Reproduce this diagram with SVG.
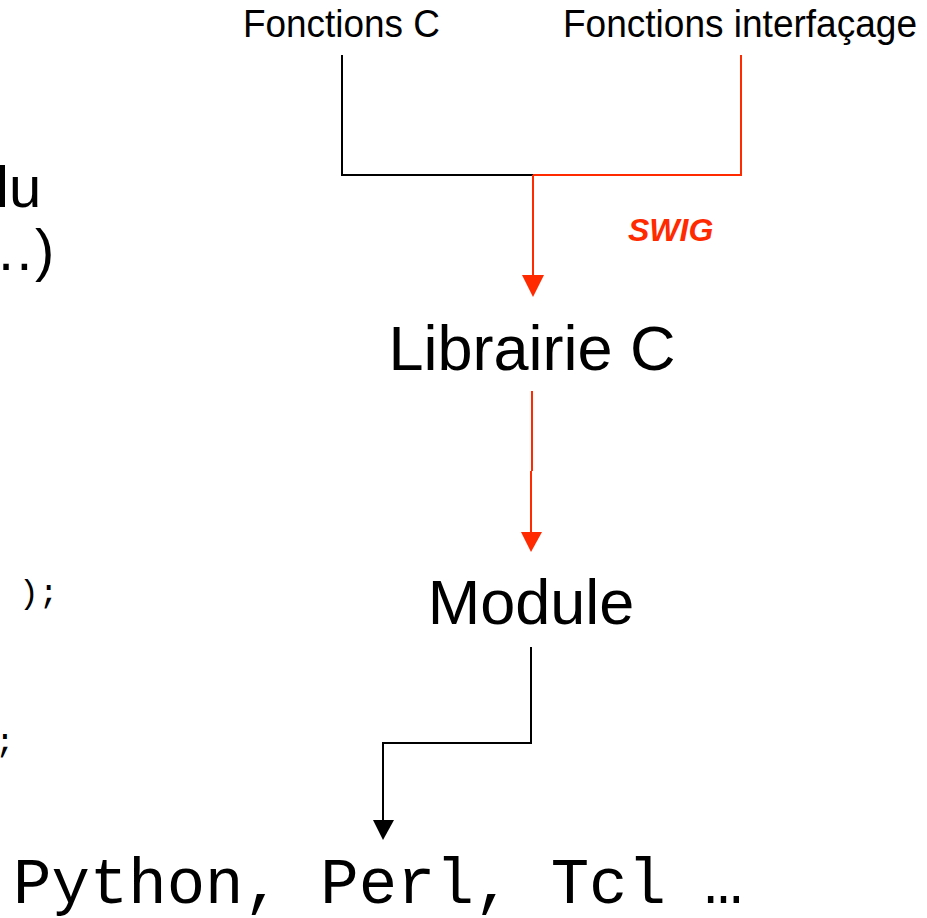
<svg xmlns="http://www.w3.org/2000/svg" width="927" height="918" viewBox="0 0 927 918">
<style>
.sans{font-family:"Liberation Sans",Arial,sans-serif;fill:#000}
.mono{font-family:"Liberation Mono","Courier New",monospace;fill:#000}
.blk{stroke:#000;stroke-width:2;fill:none}
.red{stroke:#ff2a00;stroke-width:2;fill:none}
.swig{font-family:"Liberation Sans",Arial,sans-serif;font-weight:bold;font-style:italic;fill:#ff2a00}
</style>
<rect width="927" height="918" fill="#fff"/>
<g id="left-fragments">
<text class="sans" x="-4" y="207" font-size="58">lu</text>
<text class="sans" x="-23" y="270" font-size="58">…)</text>
<text class="mono" x="19" y="603" font-size="33">);</text>
<text class="mono" x="-5" y="752" font-size="33">;</text>
</g>
<g id="fonctions-c"><text class="sans" x="243" y="37" font-size="38" textLength="197" lengthAdjust="spacingAndGlyphs">Fonctions C</text></g>
<g id="fonctions-interfacage"><text class="sans" x="563" y="37" font-size="38" textLength="354" lengthAdjust="spacingAndGlyphs">Fonctions interfaçage</text></g>
<g id="librairie-c"><text class="sans" x="532" y="370" font-size="63" text-anchor="middle">Librairie C</text></g>
<g id="module"><text class="sans" x="531" y="624" font-size="63" text-anchor="middle">Module</text></g>
<g id="langages"><text class="mono" x="13" y="903" font-size="64">Python, Perl, Tcl …</text></g>
<g id="connectors">
<path class="blk" d="M342 55 V175 H533"/>
<path class="red" d="M533 175 H741 V55"/>
<path class="red" d="M533 175 V277"/>
<polygon points="522,275 544,275 533,297" fill="#ff2a00"/>
<text class="swig" x="628" y="241" font-size="32">SWIG</text>
<path class="red" d="M532 391 V471 M531 471 V534"/>
<polygon points="521,532 542,532 531,552" fill="#ff2a00"/>
<path class="blk" d="M531 647 V743 H383 V822"/>
<polygon points="373,820 394,820 383,840" fill="#000"/>
</g>
</svg>
